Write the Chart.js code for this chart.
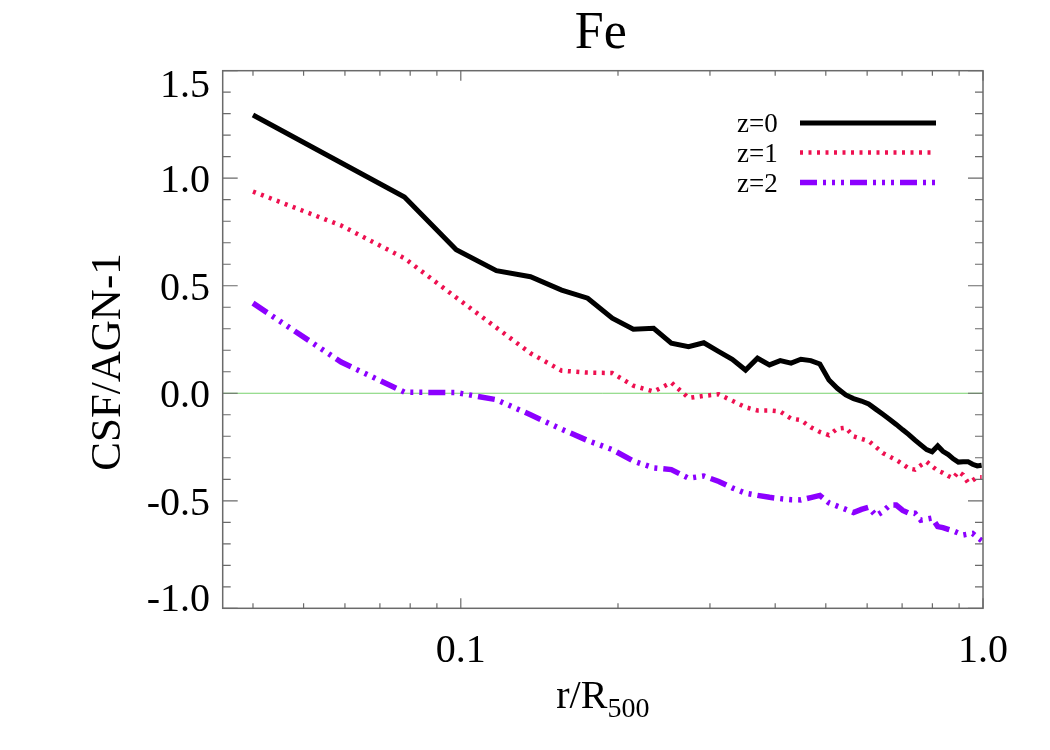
<!DOCTYPE html>
<html>
<head>
<meta charset="utf-8">
<script src="https://cdn.jsdelivr.net/npm/chart.js@4.4.1/dist/chart.umd.min.js"></script>
<style>
html,body{margin:0;padding:0;background:#fff;}
#wrap{width:1050px;height:750px;}
</style>
</head>
<body>
<div id="wrap"><canvas id="c" width="1050" height="750"></canvas></div>
<script>
// ---- data ----
const radius = [0.040, 0.059, 0.078, 0.098, 0.117, 0.136, 0.156, 0.175, 0.195, 0.214,
  0.234, 0.253, 0.273, 0.292, 0.312, 0.331, 0.351, 0.370, 0.390, 0.409,
  0.429, 0.448, 0.468, 0.487, 0.507, 0.526, 0.546, 0.565, 0.585, 0.604,
  0.624, 0.643, 0.663, 0.682, 0.702, 0.721, 0.741, 0.760, 0.780, 0.799,
  0.819, 0.838, 0.858, 0.877, 0.897, 0.916, 0.936, 0.955, 0.975, 0.994];

const z0 = [1.294, 1.072, 0.913, 0.667, 0.570, 0.542, 0.480, 0.442, 0.349, 0.298,
  0.302, 0.233, 0.217, 0.235, 0.194, 0.158, 0.108, 0.163, 0.132, 0.152,
  0.140, 0.158, 0.152, 0.136, 0.062, 0.023, -0.008, -0.025, -0.036, -0.050,
  -0.075, -0.098, -0.122, -0.145, -0.170, -0.192, -0.218, -0.240, -0.262, -0.272,
  -0.245, -0.270, -0.285, -0.305, -0.320, -0.318, -0.318, -0.330, -0.338, -0.335];

const z1 = [0.938, 0.780, 0.628, 0.445, 0.305, 0.186, 0.105, 0.096, 0.094, 0.035,
  0.008, 0.050, -0.022, -0.012, -0.005, -0.035, -0.065, -0.080, -0.080, -0.085,
  -0.118, -0.125, -0.158, -0.180, -0.195, -0.165, -0.160, -0.200, -0.212, -0.222,
  -0.250, -0.278, -0.295, -0.310, -0.330, -0.350, -0.355, -0.335, -0.318, -0.340,
  -0.360, -0.370, -0.385, -0.395, -0.365, -0.380, -0.415, -0.405, -0.390, -0.390];

const z2 = [0.419, 0.145, 0.005, 0.003, -0.030, -0.100, -0.167, -0.220, -0.262, -0.315,
  -0.347, -0.355, -0.395, -0.385, -0.410, -0.440, -0.465, -0.475, -0.484, -0.490,
  -0.495, -0.496, -0.485, -0.475, -0.510, -0.525, -0.540, -0.555, -0.540, -0.530,
  -0.570, -0.550, -0.520, -0.520, -0.545, -0.558, -0.558, -0.590, -0.585, -0.580,
  -0.620, -0.625, -0.633, -0.640, -0.650, -0.659, -0.655, -0.652, -0.670, -0.685];

const seriesLabels = ['z=0', 'z=1', 'z=2'];
const yTickValues = [-1.0, -0.5, 0.0, 0.5, 1.0, 1.5];
const yTickLabels = ['-1.0', '-0.5', '0.0', '0.5', '1.0', '1.5'];
const yMinorValues = [-0.9,-0.8,-0.7,-0.6,-0.4,-0.3,-0.2,-0.1,0.1,0.2,0.3,0.4,0.6,0.7,0.8,0.9,1.1,1.2,1.3,1.4];
const xTickValues = [0.1, 1.0];
const xTickLabels = ['0.1', '1.0'];
const xMinorValues = [0.04,0.05,0.06,0.07,0.08,0.09,0.2,0.3,0.4,0.5,0.6,0.7,0.8,0.9];
const titleText = 'Fe';
const yTitle = 'CSF/AGN-1';
const xTitleMain = 'r/R';
const xTitleSub = '500';

const SERIF = "'Liberation Serif','Times New Roman',serif";

function pts(vals){ return radius.map((r,i)=>({x:r, y:vals[i]})); }

const frame = {
  id: 'idlFrame',
  beforeDatasetsDraw(chart){
    const {ctx, chartArea:a, scales:{y}} = chart;
    const y0 = y.getPixelForValue(0);
    ctx.save();
    ctx.strokeStyle = 'rgb(120,210,110)';
    ctx.lineWidth = 1;
    ctx.beginPath(); ctx.moveTo(a.left, y0); ctx.lineTo(a.right, y0); ctx.stroke();
    ctx.restore();
  },
  afterDraw(chart){
    const {ctx, chartArea:a, scales:{x,y}} = chart;
    ctx.save();
    ctx.strokeStyle = '#6a6a6a';
    ctx.lineWidth = 1.5;
    ctx.strokeRect(a.left, a.top, a.right-a.left, a.bottom-a.top);
    ctx.lineWidth = 1.2;
    ctx.beginPath();
    yTickValues.forEach(v=>{ const p=y.getPixelForValue(v);
      ctx.moveTo(a.left,p); ctx.lineTo(a.left+15,p); ctx.moveTo(a.right,p); ctx.lineTo(a.right-15,p); });
    yMinorValues.forEach(v=>{ const p=y.getPixelForValue(v);
      ctx.moveTo(a.left,p); ctx.lineTo(a.left+8,p); ctx.moveTo(a.right,p); ctx.lineTo(a.right-8,p); });
    xTickValues.forEach(v=>{ const p=x.getPixelForValue(v);
      ctx.moveTo(p,a.bottom); ctx.lineTo(p,a.bottom-10); ctx.moveTo(p,a.top); ctx.lineTo(p,a.top+10); });
    xMinorValues.forEach(v=>{ const p=x.getPixelForValue(v);
      ctx.moveTo(p,a.bottom); ctx.lineTo(p,a.bottom-5); ctx.moveTo(p,a.top); ctx.lineTo(p,a.top+5); });
    ctx.stroke();

    ctx.fillStyle = '#000';
    // y tick labels
    ctx.font = '40px ' + SERIF;
    ctx.textAlign = 'right';
    ctx.textBaseline = 'alphabetic';
    yTickValues.forEach((v,i)=>{
      let p = y.getPixelForValue(v);
      p = Math.min(Math.max(p, a.top+12), a.bottom-11);
      ctx.fillText(yTickLabels[i], 210, p+14);
    });
    // x tick labels
    ctx.textAlign = 'center';
    xTickValues.forEach((v,i)=>{
      const p = x.getPixelForValue(v);
      ctx.fillText(xTickLabels[i], p, 662);
    });
    // title
    ctx.font = '52px ' + SERIF;
    ctx.fillText(titleText, (a.left+a.right)/2 - 2, 48);
    // x title with subscript
    ctx.font = '40px ' + SERIF;
    ctx.textAlign = 'left';
    const wMain = ctx.measureText(xTitleMain).width;
    ctx.font = '28px ' + SERIF;
    const wSub = ctx.measureText(xTitleSub).width;
    const xs = (a.left+a.right)/2 - (wMain+wSub)/2;
    ctx.font = '40px ' + SERIF;
    ctx.fillText(xTitleMain, xs, 708);
    ctx.font = '28px ' + SERIF;
    ctx.fillText(xTitleSub, xs + wMain, 717);
    // y title
    ctx.save();
    ctx.translate(120, 362);
    ctx.rotate(-Math.PI/2);
    ctx.font = '43px ' + SERIF;
    ctx.textAlign = 'center';
    ctx.fillText(yTitle, 0, 0);
    ctx.restore();

    // legend
    const rows = [123, 152.5, 182.5];
    chart.data.datasets.forEach((ds,i)=>{
      ctx.font = '27px ' + SERIF;
      ctx.textAlign = 'left';
      ctx.fillStyle = '#000';
      ctx.fillText(ds.label, 737, rows[i]+9);
      ctx.save();
      ctx.strokeStyle = ds.borderColor;
      ctx.lineWidth = ds.borderWidth;
      ctx.setLineDash(ds.borderDash || []);
      ctx.lineCap = 'butt';
      ctx.beginPath(); ctx.moveTo(800, rows[i]); ctx.lineTo(936, rows[i]); ctx.stroke();
      ctx.restore();
    });
    ctx.restore();
  }
};

new Chart(document.getElementById('c'), {
  type: 'line',
  data: {
    datasets: [
      {label: seriesLabels[0], data: pts(z0), borderColor: '#000000', borderWidth: 5, borderDash: []},
      {label: seriesLabels[1], data: pts(z1), borderColor: '#ee1050', borderWidth: 4.5, borderDash: [3, 5.5]},
      {label: seriesLabels[2], data: pts(z2), borderColor: '#8c00ff', borderWidth: 5.5, borderDash: [17, 6, 3, 6, 3, 6, 3, 6]}
    ]
  },
  options: {
    responsive: false,
    animation: false,
    devicePixelRatio: 1,
    layout: {padding: {left: 222.7, right: 67, top: 70.7, bottom: 141.7}},
    elements: {
      point: {radius: 0, hoverRadius: 0},
      line: {tension: 0, borderCapStyle: 'butt', borderJoinStyle: 'miter', fill: false}
    },
    scales: {
      x: {type: 'logarithmic', min: 0.035, max: 1.0, display: false},
      y: {type: 'linear', min: -1.0, max: 1.5, display: false}
    },
    plugins: {legend: {display: false}, title: {display: false}, tooltip: {enabled: false}}
  },
  plugins: [frame]
});
</script>
</body>
</html>
